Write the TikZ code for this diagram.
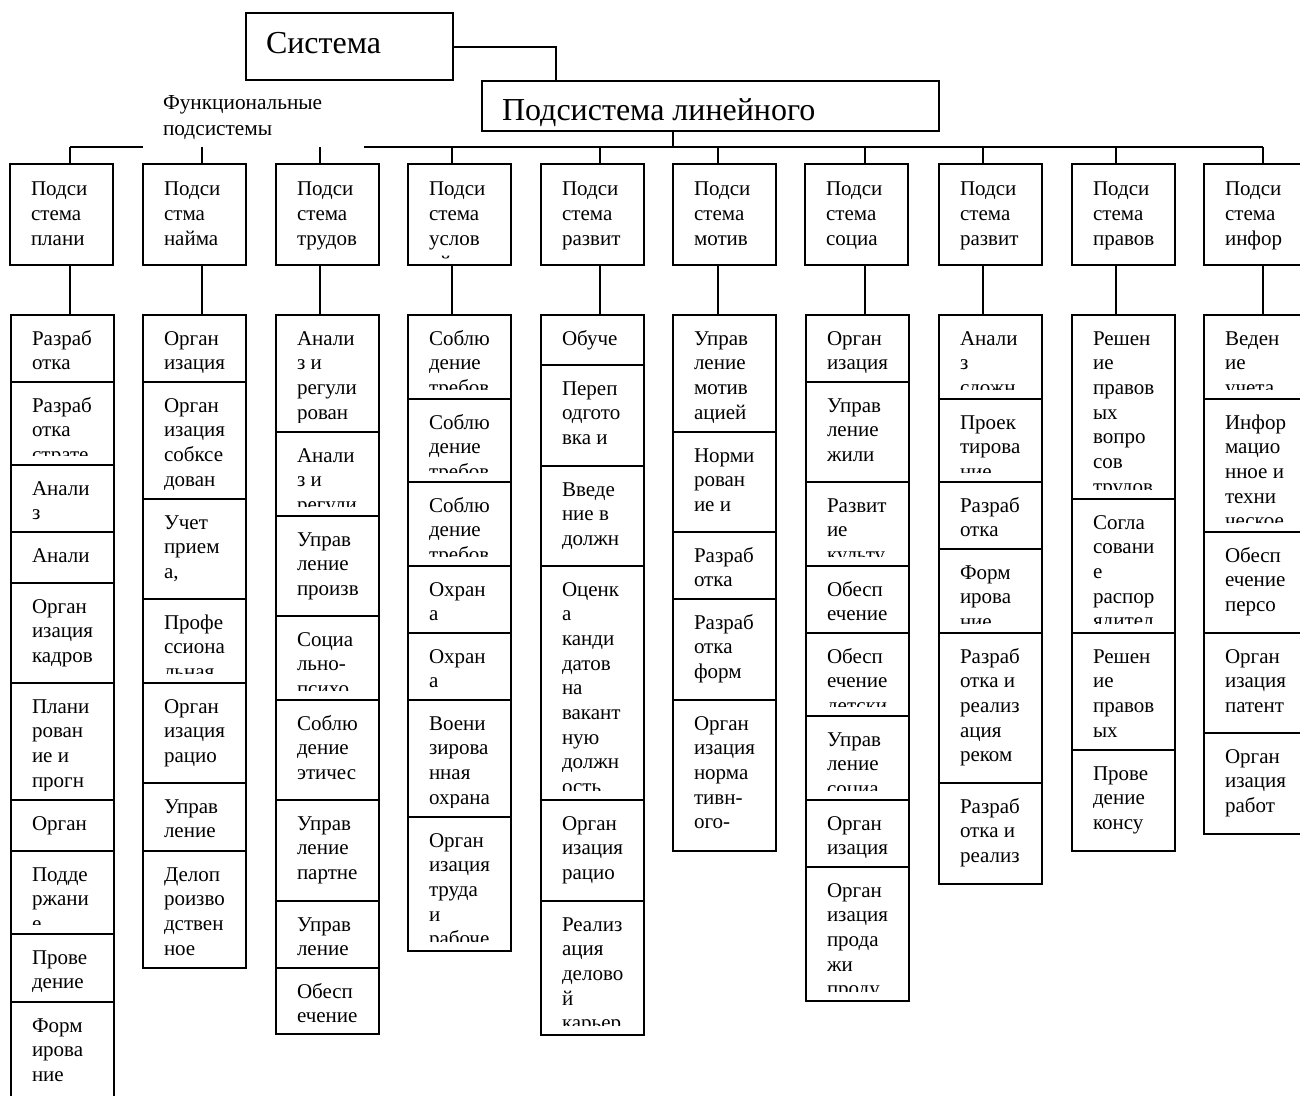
\documentclass[tikz,border=0pt]{standalone}
\usepackage{fontspec}
\setmainfont{Liberation Serif}
\tikzset{
  cell/.style={draw, line width=2pt, minimum width=103pt, inner sep=0pt, outer sep=0pt},
  celltext/.style={anchor=base west, inner sep=0pt, outer sep=0pt, font=\fontsize{21}{24}\selectfont},
  bigtext/.style={anchor=base west, inner sep=0pt, outer sep=0pt, font=\fontsize{32}{36}\selectfont},
  labtext/.style={anchor=base west, inner sep=0pt, outer sep=0pt, font=\fontsize{21.3}{24}\selectfont},
  conn/.style={line width=2pt},
}
\newcommand\cellbox[5]{%
  \pgfmathsetmacro\cellh{#4-#3}%
  \node[cell, minimum height=\cellh pt, anchor=north west] (#1) at (#2,#3) {};
  \begin{scope}
    \clip (#2,#3) rectangle ({#2+103},{#4-10});
    \foreach \t [count=\i] in {#5} {\node[celltext] (#1-\i) at ({#2+21},{#3+30+(\i-1)*24.7}) {\t};}
  \end{scope}
}
\newcommand\topbox[3]{%
  \node[cell, minimum height=101pt, anchor=north west] (#1) at (#2,164) {};
  \begin{scope}
    \clip (#2,164) rectangle ({#2+103},258);
    \foreach \t [count=\i] in {#3} {\node[celltext] (#1-\i) at ({#2+21},{195+(\i-1)*25}) {\t};}
  \end{scope}
}
\begin{document}
\begin{tikzpicture}[x=1pt,y=-1pt]
\useasboundingbox (0,0) rectangle (1300,1095);
\clip (0,0) rectangle (1300,1095);
\fill[white] (0,0) rectangle (1300,1095);

% top level
\node[cell, minimum width=207pt, minimum height=67pt, anchor=north west] (sys) at (246,13) {};
\node[bigtext] (sys-t) at (266,53) {Система};
\node[cell, minimum width=457pt, minimum height=50pt, anchor=north west] (lin) at (482,81) {};
\node[bigtext] (lin-t) at (502,120) {Подсистема линейного};
\coordinate (linjoin) at (556,81);
\draw[conn] (sys.east) -| (linjoin);

% bus
\foreach \n/\x in {1/70,2/202,3/320,4/452,5/600,6/718,7/865,8/983,9/1116,10/1263}
  {\coordinate (b\n) at (\x,147);}
\coordinate (lindrop) at (673,147);
\draw[conn] (b1) -- (b10);
\draw[conn] (lindrop |- lin.south) -- (lindrop);

% label
\node[fill=white, inner sep=0pt, minimum width=221pt, minimum height=62pt, anchor=north west] (func) at (143,87) {};
\node[labtext] (func-1) at (163,109) {Функциональные};
\node[labtext] (func-2) at (163,135) {подсистемы};

% top boxes
\topbox{t1}{10}{Подси,стема,плани}
\topbox{t2}{143}{Подси,стма,найма}
\topbox{t3}{276}{Подси,стема,трудов}
\topbox{t4}{408}{Подси,стема,услов,ий}
\topbox{t5}{541}{Подси,стема,развит}
\topbox{t6}{673}{Подси,стема,мотив}
\topbox{t7}{805}{Подси,стема,социа}
\topbox{t8}{939}{Подси,стема,развит}
\topbox{t9}{1072}{Подси,стема,правов}
\topbox{t10}{1204}{Подси,стема,инфор}

% column 1
\cellbox{c1-1}{11}{315}{382}{Разраб,отка}
\cellbox{c1-2}{11}{382}{465}{Разраб,отка,страте}
\cellbox{c1-3}{11}{465}{532}{Анали,з}
\cellbox{c1-4}{11}{532}{583}{Анали}
\cellbox{c1-5}{11}{583}{683}{Орган,изация,кадров}
\cellbox{c1-6}{11}{683}{800}{Плани,рован,ие и,прогн}
\cellbox{c1-7}{11}{800}{851}{Орган}
\cellbox{c1-8}{11}{851}{934}{Подде,ржани,е}
\cellbox{c1-9}{11}{934}{1002}{Прове,дение}
\cellbox{c1-10}{11}{1002}{1112}{Форм,ирова,ние}

% column 2
\cellbox{c2-1}{143}{315}{382}{Орган,изация}
\cellbox{c2-2}{143}{382}{499}{Орган,изация,собксе,дован}
\cellbox{c2-3}{143}{499}{599}{Учет,прием,{а,}}
\cellbox{c2-4}{143}{599}{683}{Профе,ссиона,льная}
\cellbox{c2-5}{143}{683}{783}{Орган,изация,рацио}
\cellbox{c2-6}{143}{783}{851}{Управ,ление}
\cellbox{c2-7}{143}{851}{968}{Делоп,роизво,дствен,ное}

% column 3
\cellbox{c3-1}{276}{315}{432}{Анали,з и,регули,рован}
\cellbox{c3-2}{276}{432}{516}{Анали,з и,регули}
\cellbox{c3-3}{276}{516}{616}{Управ,ление,произв}
\cellbox{c3-4}{276}{616}{700}{Социа,льно-,психо}
\cellbox{c3-5}{276}{700}{800}{Соблю,дение,этичес}
\cellbox{c3-6}{276}{800}{901}{Управ,ление,партне}
\cellbox{c3-7}{276}{901}{968}{Управ,ление}
\cellbox{c3-8}{276}{968}{1034}{Обесп,ечение}

% column 4
\cellbox{c4-1}{408}{315}{399}{Соблю,дение,требов}
\cellbox{c4-2}{408}{399}{482}{Соблю,дение,требов}
\cellbox{c4-3}{408}{482}{566}{Соблю,дение,требов}
\cellbox{c4-4}{408}{566}{633}{Охран,а}
\cellbox{c4-5}{408}{633}{700}{Охран,а}
\cellbox{c4-6}{408}{700}{817}{Воени,зирова,нная,охрана}
\cellbox{c4-7}{408}{817}{951}{Орган,изация,труда,и,рабоче}

% column 5
\cellbox{c5-1}{541}{315}{365}{Обуче}
\cellbox{c5-2}{541}{365}{466}{Переп,одгото,вка и}
\cellbox{c5-3}{541}{466}{566}{Введе,ние в,должн}
\cellbox{c5-4}{541}{566}{800}{Оценк,а,канди,датов,на,вакант,ную,должн,{ость,}}
\cellbox{c5-5}{541}{800}{901}{Орган,изация,рацио}
\cellbox{c5-6}{541}{901}{1035}{Реализ,ация,делово,й,карьер}

% column 6
\cellbox{c6-1}{673}{315}{432}{Управ,ление,мотив,ацией}
\cellbox{c6-2}{673}{432}{532}{Норми,рован,ие и}
\cellbox{c6-3}{673}{532}{599}{Разраб,отка}
\cellbox{c6-4}{673}{599}{700}{Разраб,отка,форм}
\cellbox{c6-5}{673}{700}{851}{Орган,изация,норма,тивн-,ого-}

% column 7
\cellbox{c7-1}{806}{315}{382}{Орган,изация}
\cellbox{c7-2}{806}{382}{482}{Управ,ление,жили}
\cellbox{c7-3}{806}{482}{566}{Развит,ие,культу}
\cellbox{c7-4}{806}{566}{633}{Обесп,ечение}
\cellbox{c7-5}{806}{633}{716}{Обесп,ечение,детски}
\cellbox{c7-6}{806}{716}{800}{Управ,ление,социа}
\cellbox{c7-7}{806}{800}{867}{Орган,изация}
\cellbox{c7-8}{806}{867}{1001}{Орган,изация,прода,жи,проду}

% column 8
\cellbox{c8-1}{939}{315}{399}{Анали,з,сложн}
\cellbox{c8-2}{939}{399}{482}{Проек,тирова,ние}
\cellbox{c8-3}{939}{482}{549}{Разраб,отка}
\cellbox{c8-4}{939}{549}{633}{Форм,ирова,ние}
\cellbox{c8-5}{939}{633}{783}{Разраб,отка и,реализ,ация,реком}
\cellbox{c8-6}{939}{783}{884}{Разраб,отка и,реализ}

% column 9
\cellbox{c9-1}{1072}{315}{499}{Решен,ие,правов,ых,вопро,сов,трудов}
\cellbox{c9-2}{1072}{499}{633}{Согла,совани,е,распор,ядител}
\cellbox{c9-3}{1072}{633}{750}{Решен,ие,правов,ых}
\cellbox{c9-4}{1072}{750}{851}{Прове,дение,консу}

% column 10
\cellbox{c10-1}{1204}{315}{399}{Веден,ие,учета}
\cellbox{c10-2}{1204}{399}{532}{Инфор,мацио,нное и,техни,ческое}
\cellbox{c10-3}{1204}{532}{633}{Обесп,ечение,персо}
\cellbox{c10-4}{1204}{633}{733}{Орган,изация,патент}
\cellbox{c10-5}{1204}{733}{834}{Орган,изация,работ}

% drops
\foreach \n in {1,...,10}{
  \draw[conn] (b\n) -- (b\n |- t\n.north);
  \draw[conn] (b\n |- t\n.south) -- (b\n |- c\n-1.north);
}
\end{tikzpicture}
\end{document}
